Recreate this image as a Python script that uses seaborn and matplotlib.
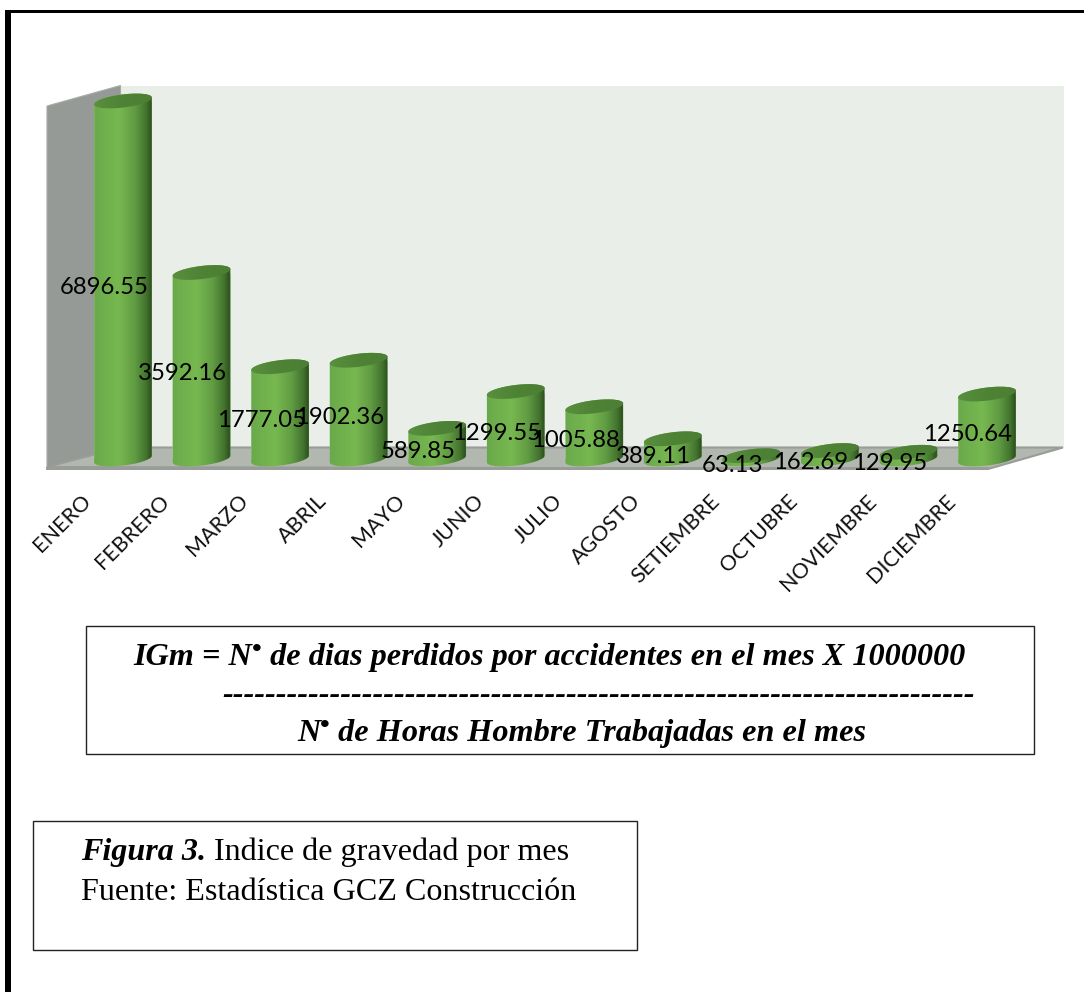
import numpy as np
import pandas as pd
import matplotlib
matplotlib.use("Agg")
import matplotlib.pyplot as plt
import seaborn as sns
from matplotlib.colors import LinearSegmentedColormap
from matplotlib.patches import Polygon, Rectangle
from matplotlib.transforms import ScaledTranslation

meses = ["ENERO", "FEBRERO", "MARZO", "ABRIL", "MAYO", "JUNIO", "JULIO", "AGOSTO",
         "SETIEMBRE", "OCTUBRE", "NOVIEMBRE", "DICIEMBRE"]
indice = [6896.55, 3592.16, 1777.05, 1902.36, 589.85, 1299.55, 1005.88, 389.11,
          63.13, 162.69, 129.95, 1250.64]

W, H = 1084, 992
sns.set_theme(style="white")
plt.rcParams["font.family"] = ["Lato", "DejaVu Sans"]

fig = plt.figure(figsize=(W / 100, H / 100), dpi=100, facecolor="white")

# page in pixel coordinates, for walls, frame and boxes
bg = fig.add_axes([0, 0, 1, 1], zorder=0)
bg.set_xlim(0, W)
bg.set_ylim(H, 0)
bg.axis("off")

bg.add_patch(Rectangle((120.5, 85.5), 943, 362, fc="#E9EFE8", ec="none"))
bg.add_patch(Polygon([(47, 106), (120.5, 85.5), (120.5, 447), (47, 468)], fc="#959A96", ec="#A8ACA8", lw=0.8))
bg.add_patch(Polygon([(47, 467), (120.5, 447.5), (1063, 447.5), (988, 469)], fc="#B2B7B0", ec="#9A9C9A", lw=1.5))
bg.add_patch(Rectangle((46, 467), 943, 2.5, fc="#9A9C9A", ec="none"))

# outer frame, only left and top
bg.add_patch(Rectangle((5, 10), 5.5, H - 10, fc="black", ec="none"))
bg.add_patch(Rectangle((5, 10), W - 5, 2.8, fc="black", ec="none"))

# bars
left, right = 83.7, 1026.3
base, top_y = 459, 95.6
ax = fig.add_axes([left / W, 1 - base / H, (right - left) / W, (base - top_y) / H], zorder=1)
ax.patch.set_alpha(0)
df = pd.DataFrame({"mes": meses, "indice": indice})
sns.barplot(data=df, x="mes", y="indice", color="#69A94A", saturation=1, width=0.74, ax=ax)
ax.set_xlim(-0.5, 11.5)
ax.set_ylim(0, 7000)
ax.set_xlabel("")
ax.set_ylabel("")
ax.set_yticks([])
sns.despine(ax=ax, left=True, bottom=True)
ax.tick_params(axis="x", length=0, pad=28)
ax.set_xticks(range(len(meses)))
ax.set_xticklabels(meses, rotation=45, ha="right", va="center", rotation_mode="anchor", fontsize=15.5, color="#111111")
shift = ScaledTranslation(-35 / 100, 0, fig.dpi_scale_trans)
for lab in ax.get_xticklabels():
    lab.set_transform(lab.get_transform() + shift)

# overlay for the cylinder look and the value labels
over = fig.add_axes([0, 0, 1, 1], zorder=2)
over.set_xlim(0, W)
over.set_ylim(H, 0)
over.axis("off")
over.patch.set_alpha(0)

body_cmap = LinearSegmentedColormap.from_list("body", [
    (0.0, "#68A84A"), (0.42, "#78B850"), (0.68, "#619C43"), (0.86, "#43742E"),
    (0.94, "#2E5420"), (1.0, "#4F8A3A")])
top_cmap = LinearSegmentedColormap.from_list("top", ["#5A9040", "#4E8235", "#4C7F34"])
grad = np.linspace(0, 1, 256).reshape(1, -1)
tilt = np.radians(7)


def ring(cx, cy, a, b, t):
    # point on the tilted ellipse, y grows downward
    xs = cx + a * np.cos(t) * np.cos(tilt) + b * np.sin(t) * np.sin(tilt)
    ys = cy - a * np.cos(t) * np.sin(tilt) + b * np.sin(t) * np.cos(tilt)
    return np.column_stack([xs, ys])


for bar in ax.patches:
    x0 = bar.get_x() + bar.get_width() / 2
    px, py = ax.transData.transform((x0, bar.get_height()))
    cx, cy = px, H - py
    a = (ax.transData.transform((bar.get_width(), 0))[0] - ax.transData.transform((0, 0))[0]) / 2
    b = 6.5
    low = ring(cx, base, a, b, np.linspace(0, np.pi, 60))
    high = ring(cx, cy, a, b, np.linspace(np.pi, 2 * np.pi, 60))
    body = Polygon(np.vstack([low, high]), fc="none", ec="none", transform=over.transData)
    over.add_patch(body)
    im = over.imshow(grad, cmap=body_cmap, aspect="auto", extent=(cx - a - 2, cx + a + 2, base + 12, cy - 12), zorder=2)
    im.set_clip_path(body)
    bar.set_clip_path(Polygon(np.vstack([low, high]), transform=over.transData))
    cap = Polygon(ring(cx, cy, a, b, np.linspace(0, 2 * np.pi, 80)), fc="none", ec="none", transform=over.transData)
    over.add_patch(cap)
    im2 = over.imshow(grad, cmap=top_cmap, aspect="auto", extent=(cx - a - 2, cx + a + 2, cy + 12, cy - 12), zorder=3)
    im2.set_clip_path(cap)
    over.text(cx - 19, (cy + base) / 2 + 8, f"{bar.get_height():.2f}", ha="center", va="center",
              fontsize=17.2, color="black", zorder=5)
over.set_xlim(0, W)
over.set_ylim(H, 0)

# text boxes
bg.add_patch(Rectangle((86, 626), 948, 128, fc="white", ec="#222222", lw=1))
bg.add_patch(Rectangle((33, 821), 604, 129, fc="white", ec="#222222", lw=1))

serif = "Liberation Serif"
renderer = fig.canvas.get_renderer()


def advance(s, **kw):
    a1 = bg.text(0, 0, s + "|", **kw)
    a2 = bg.text(0, 0, "|", **kw)
    w = a1.get_window_extent(renderer).width - a2.get_window_extent(renderer).width
    a1.remove()
    a2.remove()
    return w


def chain(x, y, parts):
    for s, dy, kw in parts:
        bg.text(x, y - dy, s, va="baseline", ha="left", family=serif, color="black", **kw)
        x += advance(s, family=serif, **kw)


bold = dict(fontsize=23.2, fontweight="bold", fontstyle="italic")
dot = dict(fontsize=20, fontweight="bold")
chain(133, 665, [("IGm = N", 0, bold), ("\u2022", 8, dot), (" de dias perdidos por accidentes en el mes X 1000000", 0, bold)])
chain(222, 703, [("-" * 70, 0, bold)])
chain(297, 741, [("N", 0, bold), ("\u2022", 8, dot), (" de Horas Hombre Trabajadas en el mes", 0, bold)])

fig_bold = dict(fontsize=23.1, fontweight="bold", fontstyle="italic")
fig_reg = dict(fontsize=23.1)
chain(81, 860, [("Figura 3.", 0, fig_bold), (" Indice de gravedad por mes", 0, fig_reg)])
chain(81, 900, [("Fuente: Estad\u00edstica GCZ Construcci\u00f3n", 0, fig_reg)])

fig.savefig("out.png", dpi=100)
